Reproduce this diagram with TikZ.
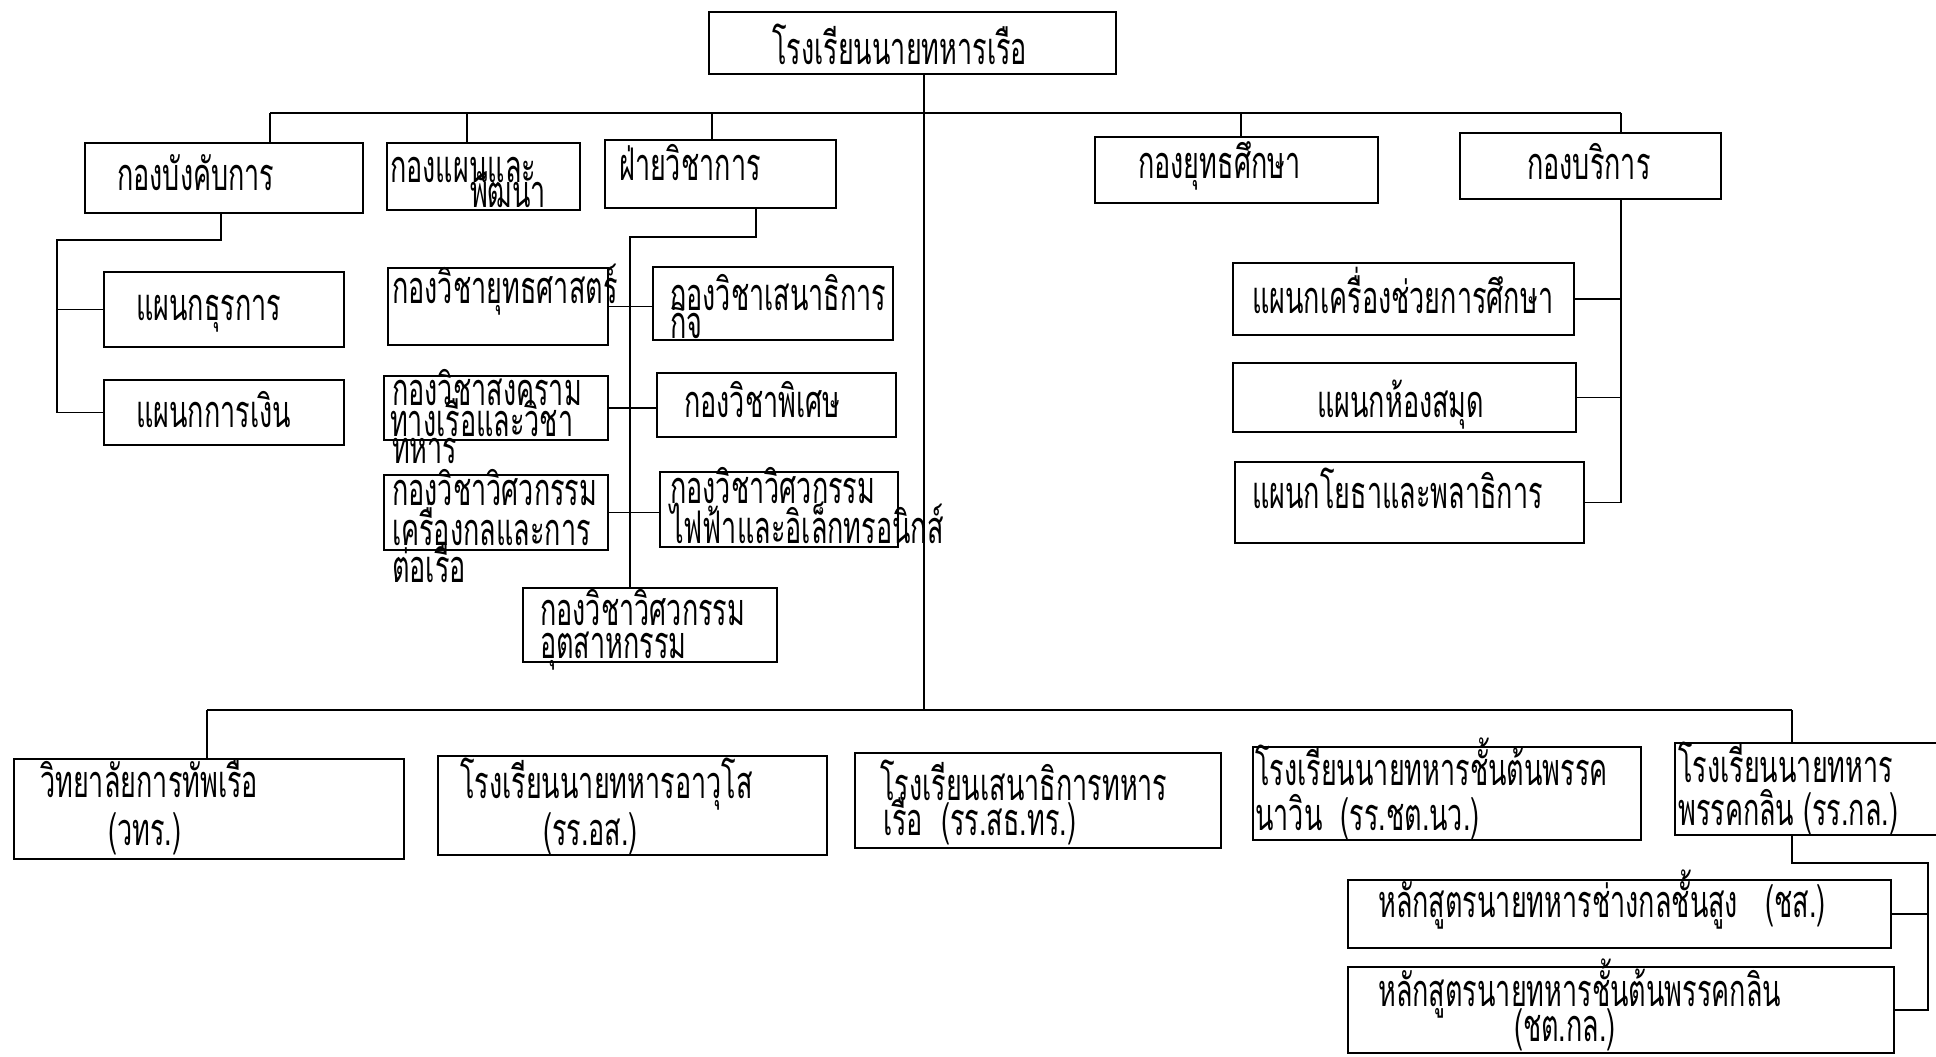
\documentclass[tikz,border=0pt]{standalone}
\usepackage{fontspec}
\newfontfamily\thaifont[Script=Thai,FakeStretch=0.6]{Loma}
\begin{document}
\begin{tikzpicture}[x=1pt,y=-1pt,
  box/.style={draw, line width=1.7pt, inner sep=0pt, outer sep=0pt},
  lbl/.style={anchor=base west, inner sep=0pt, font=\thaifont\fontsize{45}{48}\selectfont},
  conn/.style={line width=1.4pt}]
\useasboundingbox (0,0) rectangle (1936,1057);
\newcommand\bx[5]{\node[box, minimum width={#4-#2}, minimum height={#5-#3}] (#1) at ({(#2+#4)/2},{(#3+#5)/2}) {};}
\newcommand\lb[4]{\node[lbl] (#1) at (#2,#3) {#4};}
% boxes
\bx{top}{709}{12}{1116}{74}
\bx{b1}{85}{143}{363}{213}
\bx{b2}{387}{143}{580}{210}
\bx{b3}{605}{140}{836}{208}
\bx{b4}{1095}{137}{1378}{203}
\bx{b5}{1460}{133}{1721}{199}
\bx{d1}{104}{272}{344}{347}
\bx{d2}{104}{380}{344}{445}
\bx{e1}{388}{268}{608}{345}
\bx{e2}{384}{376}{608}{440}
\bx{e3}{384}{475}{608}{550}
\bx{f1}{653}{267}{893}{340}
\bx{f2}{657}{373}{896}{437}
\bx{f3}{660}{472}{898}{547}
\bx{g}{523}{588}{777}{662}
\bx{h1}{1233}{263}{1574}{335}
\bx{h2}{1233}{363}{1576}{432}
\bx{h3}{1235}{462}{1584}{543}
\bx{k1}{14}{759}{404}{859}
\bx{k2}{438}{756}{827}{855}
\bx{k3}{855}{753}{1221}{848}
\bx{k4}{1253}{747}{1641}{840}
\bx{k5}{1675}{743}{1960}{835}
\bx{m1}{1348}{880}{1891}{948}
\bx{m2}{1348}{967}{1894}{1053}
% labels
\lb{ltop}{772}{64}{โรงเรียนนายทหารเรือ}
\lb{lb1}{117}{190}{กองบังคับการ}
\lb{lb2a}{390}{182}{กองแผนและ}
\lb{lb2b}{470}{207}{พัฒนา}
\lb{lb3}{619}{180}{ฝ่ายวิชาการ}
\lb{lb4}{1138}{178}{กองยุทธศึกษา}
\lb{lb5}{1527}{179}{กองบริการ}
\lb{ld1}{136}{320}{แผนกธุรการ}
\lb{ld2}{136}{427}{แผนกการเงิน}
\lb{le1}{392}{303}{กองวิชายุทธศาสตร์}
\lb{le2a}{392}{405}{กองวิชาสงคราม}
\lb{le2b}{390}{436}{ทางเรือและวิชา}
\lb{le2c}{392}{463}{ทหาร}
\lb{le3a}{392}{505}{กองวิชาวิศวกรรม}
\lb{le3b}{392}{545}{เครื่องกลและการ}
\lb{le3c}{392}{582}{ต่อเรือ}
\lb{lf1a}{670}{310}{กองวิชาเสนาธิการ}
\lb{lf1b}{670}{338}{กิจ}
\lb{lf2}{684}{417}{กองวิชาพิเศษ}
\lb{lf3a}{670}{503}{กองวิชาวิศวกรรม}
\lb{lf3b}{670}{543}{ไฟฟ้าและอิเล็กทรอนิกส์}
\lb{lga}{540}{625}{กองวิชาวิศวกรรม}
\lb{lgb}{540}{658}{อุตสาหกรรม}
\lb{lh1}{1252}{313}{แผนกเครื่องช่วยการศึกษา}
\lb{lh2}{1317}{417}{แผนกห้องสมุด}
\lb{lh3}{1252}{508}{แผนกโยธาและพลาธิการ}
\lb{lk1a}{40}{797}{วิทยาลัยการทัพเรือ}
\lb{lk1b}{108}{845}{(วทร.)}
\lb{lk2a}{460}{798}{โรงเรียนนายทหารอาวุโส}
\lb{lk2b}{543}{845}{(รร.อส.)}
\lb{lk3a}{880}{800}{โรงเรียนเสนาธิการทหาร}
\lb{lk3b}{883}{835}{เรือ\ \ (รร.สธ.ทร.)}
\lb{lk4a}{1255}{785}{โรงเรียนนายทหารชั้นต้นพรรค}
\lb{lk4b}{1255}{830}{นาวิน\ \ (รร.ชต.นว.)}
\lb{lk5a}{1678}{782}{โรงเรียนนายทหาร}
\lb{lk5b}{1678}{825}{พรรคกลิน (รร.กล.)}
\lb{lm1}{1378}{917}{หลักสูตรนายทหารช่างกลชั้นสูง\ \ \ (ชส.)}
\lb{lm2a}{1378}{1006}{หลักสูตรนายทหารชั้นต้นพรรคกลิน}
\node[lbl, anchor=base] (lm2b) at (1565,1041) {(ชต.กล.)};
% upper bus
\coordinate (x1) at (270,113);
\coordinate (x2) at (467,113);
\coordinate (x3) at (712,113);
\coordinate (x4) at (1241,113);
\coordinate (x5) at (1621,113);
\coordinate (trk) at (924,710);
\draw[conn] (x1) -- (x5);
\draw[conn] (x1) -- (x1 |- b1.north);
\draw[conn] (x2) -- (x2 |- b2.north);
\draw[conn] (x3) -- (x3 |- b3.north);
\draw[conn] (x4) -- (x4 |- b4.north);
\draw[conn] (x5) -- (x5 |- b5.north);
\draw[conn] (top.south -| trk) -- (trk);
% lower bus
\coordinate (y1) at (207,710);
\coordinate (y2) at (1792,710);
\draw[conn] (y1) -- (y2);
\draw[conn] (y1) -- (y1 |- k1.north);
\draw[conn] (y2) -- (y2 |- k5.north);
% b1 subtree
\coordinate (c1) at (221,240);
\coordinate (c2) at (57,240);
\draw[conn] (b1.south -| c1) -- (c1) -- (c2) -- (c2 |- d2.west) -- (d2.west);
\draw[conn] (c2 |- d1.west) -- (d1.west);
% b3 subtree
\coordinate (v1) at (756,237);
\coordinate (v2) at (630,237);
\draw[conn] (b3.south -| v1) -- (v1) -- (v2) -- (v2 |- g.north);
\draw[conn] (e1.east) -- (e1.east -| f1.west);
\draw[conn] (e2.east) -- (e2.east -| f2.west);
\draw[conn] (e3.east) -- (e3.east -| f3.west);
% b5 subtree
\draw[conn] (b5.south -| x5) -- (x5 |- h3.east) -- (h3.east);
\draw[conn] (h1.east) -- (h1.east -| x5);
\draw[conn] (h2.east) -- (h2.east -| x5);
% k5 subtree
\coordinate (w1) at (1792,863);
\coordinate (w2) at (1928,863);
\draw[conn] (k5.south -| w1) -- (w1) -- (w2) -- (w2 |- m2.east) -- (m2.east);
\draw[conn] (m1.east) -- (m1.east -| w2);
\end{tikzpicture}
\end{document}
